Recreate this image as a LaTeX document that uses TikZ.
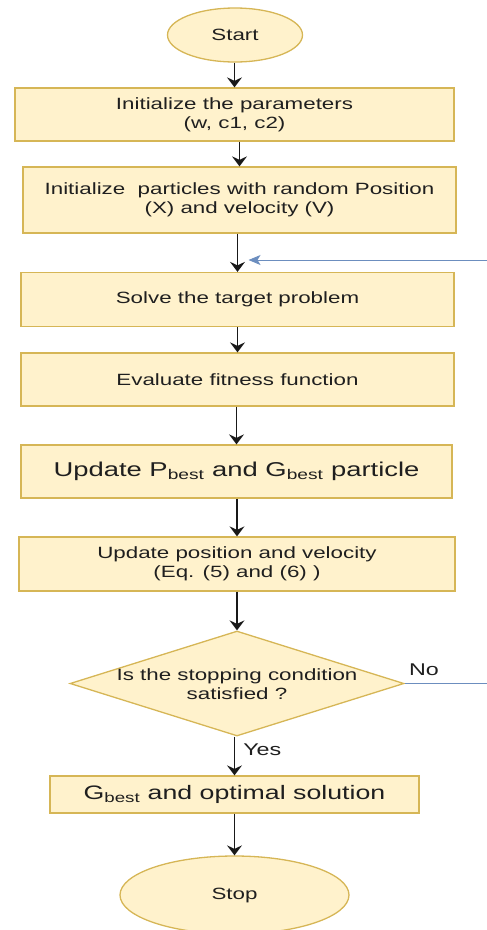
\documentclass[tikz,border=0pt]{standalone}
\usepackage{fontspec}
\setmainfont[FakeStretch=1.37]{Liberation Sans}
\usetikzlibrary{positioning, shapes.geometric, arrows.meta}
\definecolor{boxfill}{HTML}{FFF2CC}
\definecolor{boxline}{HTML}{D6B656}
\definecolor{backline}{HTML}{6C8EBF}

\begin{document}
\begin{tikzpicture}[x=1pt, y=-1pt,
    every node/.style={text=black!88, font=\fontsize{16.3}{18.6}\selectfont},
    proc/.style={rectangle, draw=boxline, fill=boxfill, line width=1.3pt, inner sep=0pt, align=center},
    term/.style={ellipse, draw=boxline, fill=boxfill, line width=1.3pt, inner sep=0pt},
    decision/.style={diamond, draw=boxline, fill=boxfill, line width=1.3pt, inner sep=0pt},
    flow/.style={line width=1.5pt, black!90, -{Stealth[length=10pt, width=15pt, inset=3.5pt]}},
    loopback/.style={line width=1pt, backline, -{Stealth[length=12pt, width=10pt, inset=3pt]}}]
    \useasboundingbox (0,0) rectangle (487,930);
    \def\bigtext{\fontsize{20}{23}\selectfont}
    \node[term, minimum width=135pt, minimum height=54pt] (start) at (235,35) {Start};
    \node[proc, minimum width=439pt, minimum height=53pt] (init) at (234.5,114.5) {Initialize the parameters\\(w, c1, c2)};
    \node[proc, minimum width=433pt, minimum height=66pt] (particles) at (239.5,200) {Initialize\ \ particles with random Position\\(X) and velocity (V)};
    \node[proc, minimum width=433pt, minimum height=54pt] (solve) at (237.5,299.5) {Solve the target problem};
    \node[proc, minimum width=433pt, minimum height=53pt] (fitness) at (237.5,379.5) {Evaluate fitness function};
    \node[proc, minimum width=431pt, minimum height=53pt, font=\bigtext] (update) at (236.5,471.5) {Update P\textsubscript{best} and G\textsubscript{best} particle};
    \node[proc, minimum width=436pt, minimum height=54pt] (move) at (237,564) {Update position and velocity\\(Eq. (5) and (6) )};
    \node[decision, minimum width=334pt, minimum height=105pt] (cond) at (237,683.5) {};
    \node[align=center, inner sep=0pt] (condtext) at (237,684) {Is the stopping condition\\satisfied ?};
    \node[proc, minimum width=369pt, minimum height=37pt, font=\fontsize{19.5}{22}\selectfont] (result) at (234.5,794.5) {G\textsubscript{best}\ and optimal solution};
    \node[term, minimum width=229pt, minimum height=78pt] (stop) at (234.5,895) {Stop};
    % main flow
    \foreach \a/\b in {start/init, init/particles, particles/solve, solve/fitness, fitness/update, update/move, move/cond, result/stop}
    {
    \draw[flow] (\a.south -| \b) -- (\b.north);
    }
    \draw[flow] (cond.south -| result) -- (result.north)
        node[pos=0.35, anchor=west, inner sep=0pt, xshift=8pt, font=\fontsize{17}{20}\selectfont] (yes) {Yes};
    % loop back
    \coordinate (back) at (487,260);
    \coordinate (noend) at (487,683.5);
    \draw[loopback, -] (cond.east) -- (noend)
        node[pos=0.235, anchor=south, inner sep=0pt, yshift=7.5pt, font=\fontsize{17}{20}\selectfont] (no) {No};
    \draw[loopback, shorten >=9pt] (back) -- (back -| particles.south);
\end{tikzpicture}
\end{document}
